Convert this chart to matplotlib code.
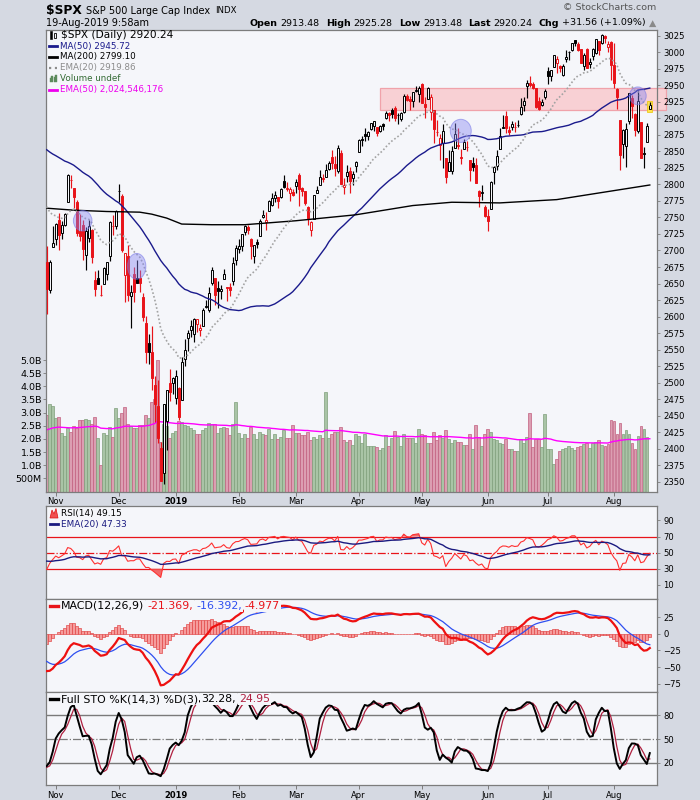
import numpy as np
import pandas as pd
import matplotlib
matplotlib.use("Agg")
import matplotlib.pyplot as plt
from matplotlib.patches import Rectangle, Ellipse, Polygon
from matplotlib.lines import Line2D

# ------------------------------------------------------------------ data
holidays = ["2018-11-22", "2018-12-05", "2018-12-25", "2019-01-01", "2019-01-21",
            "2019-02-18", "2019-04-19", "2019-05-27", "2019-07-04"]
dates = pd.bdate_range("2018-10-29", "2019-08-19")
dates = dates[~dates.isin(pd.to_datetime(holidays))]

# closes before the visible window (2018-08-17 .. 2018-10-26), for the indicators
pre_close = [2850.1, 2857.1, 2863.0, 2861.8, 2857.0, 2874.7, 2896.7, 2897.5, 2914.0, 2901.1, 2901.5,
             2896.7, 2888.6, 2878.1, 2871.7, 2877.1, 2887.9, 2888.9, 2904.2, 2905.0, 2888.8,
             2904.3, 2908.0, 2930.8, 2929.7, 2919.4, 2915.6, 2906.0, 2914.0, 2914.0,
             2924.6, 2923.4, 2925.5, 2901.6, 2885.6, 2884.4, 2880.3, 2785.7, 2728.4, 2767.1,
             2750.8, 2809.9, 2809.2, 2768.8, 2767.8, 2755.9, 2740.7, 2656.1, 2705.6, 2658.7]
pre_high = [2937.1, 2931.4, 2939.9, 2919.8, 2909.6, 2894.0, 2894.8, 2874.0, 2795.1, 2775.8,
            2776.0, 2813.5, 2816.9, 2806.0, 2797.8, 2778.9, 2753.6, 2742.6, 2722.7, 2692.4]
pre_low = [2917.9, 2919.4, 2921.4, 2883.9, 2869.3, 2862.1, 2874.3, 2784.9, 2710.5, 2729.4,
           2749.0, 2766.9, 2781.8, 2755.2, 2760.3, 2749.2, 2691.4, 2651.9, 2667.8, 2628.2]

open_ = [2682.7, 2640.7, 2705.6, 2717.6, 2745.5, 2726.4, 2738.4, 2774.1, 2806.4, 2794.1,
         2773.9, 2730.1, 2737.9, 2693.5, 2718.5, 2730.7, 2654.6, 2657.7, 2633.4, 2650.0,
         2663.8, 2691.5, 2737.0, 2737.8, 2790.5, 2782.4, 2663.5, 2691.3, 2630.9, 2664.4,
         2658.2, 2658.7, 2629.7, 2590.8, 2559.9, 2547.1, 2496.8, 2465.4, 2400.6, 2363.1,
         2442.5, 2498.8, 2498.9, 2477.0, 2491.9, 2474.3, 2535.6, 2568.1, 2580.0, 2573.5,
         2588.1, 2580.3, 2585.1, 2614.8, 2609.3, 2651.3, 2657.9, 2643.5, 2638.8, 2657.4,
         2645.0, 2644.9, 2653.6, 2685.5, 2702.3, 2706.5, 2728.3, 2735.1, 2717.5, 2692.4,
         2712.4, 2722.6, 2750.3, 2743.5, 2760.2, 2769.3, 2779.1, 2780.7, 2780.7, 2804.4,
         2792.4, 2787.5, 2788.1, 2798.2, 2814.4, 2794.4, 2790.3, 2766.5, 2730.8, 2747.6,
         2787.3, 2799.8, 2810.4, 2810.8, 2822.6, 2840.8, 2831.3, 2819.7, 2847.4, 2796.0,
         2812.7, 2819.7, 2809.4, 2828.3, 2848.6, 2868.2, 2876.1, 2874.0, 2884.2, 2888.5,
         2886.6, 2880.4, 2891.9, 2900.9, 2908.3, 2912.3, 2916.0, 2904.8, 2898.8, 2910.0,
         2934.0, 2929.0, 2925.8, 2940.6, 2937.1, 2952.3, 2922.2, 2929.2, 2908.9, 2913.0,
         2879.6, 2859.8, 2863.1, 2840.2, 2820.1, 2820.4, 2855.8, 2858.6, 2841.9, 2854.0,
         2856.1, 2836.7, 2832.4, 2830.0, 2790.3, 2786.9, 2766.2, 2751.5, 2762.6, 2818.1,
         2828.5, 2852.9, 2885.8, 2903.3, 2882.7, 2886.2, 2886.8, 2889.8, 2906.7, 2920.6,
         2949.6, 2952.7, 2951.4, 2945.8, 2926.1, 2919.7, 2932.9, 2971.4, 2964.7, 2978.1,
         2984.3, 2979.8, 2965.5, 2989.3, 2999.6, 3003.4, 3017.8, 3012.1, 3005.1, 2978.9,
         3004.3, 2981.9, 2994.7, 2998.8, 3016.3, 3013.3, 3024.5, 3007.7, 3016.2, 2980.3,
         2943.9, 2898.1, 2861.2, 2858.7, 2896.2, 2930.5, 2907.1, 2880.7, 2894.2, 2846.2,
         2864.7, 2913.5]
high = [2706.9, 2685.4, 2736.7, 2741.7, 2756.6, 2744.3, 2756.8, 2815.2, 2814.8, 2794.1,
        2776.0, 2754.6, 2746.8, 2735.4, 2746.8, 2733.2, 2669.4, 2670.7, 2647.6, 2674.4,
        2682.5, 2744.0, 2753.8, 2760.9, 2800.2, 2785.9, 2696.1, 2708.5, 2647.5, 2674.4,
        2685.4, 2670.2, 2635.1, 2601.1, 2574.0, 2585.3, 2509.6, 2504.4, 2410.3, 2467.8,
        2489.1, 2520.3, 2509.2, 2519.5, 2493.1, 2538.1, 2566.2, 2579.8, 2595.3, 2597.8,
        2596.3, 2589.3, 2613.1, 2625.8, 2645.1, 2675.5, 2657.9, 2653.2, 2647.2, 2672.4,
        2645.0, 2650.9, 2690.4, 2709.0, 2716.7, 2725.0, 2739.0, 2738.1, 2719.3, 2708.1,
        2718.1, 2748.2, 2761.9, 2757.9, 2775.7, 2787.3, 2789.9, 2781.6, 2794.2, 2813.5,
        2803.1, 2795.8, 2793.7, 2808.0, 2816.9, 2796.4, 2790.3, 2767.3, 2744.1, 2784.0,
        2798.3, 2821.2, 2815.0, 2830.7, 2835.4, 2852.4, 2843.5, 2860.3, 2852.4, 2809.8,
        2829.9, 2825.6, 2819.7, 2836.0, 2869.4, 2872.9, 2885.3, 2881.3, 2893.2, 2896.0,
        2886.9, 2889.7, 2893.4, 2910.5, 2909.6, 2916.1, 2918.0, 2908.4, 2909.5, 2936.3,
        2936.8, 2933.1, 2939.9, 2949.5, 2948.2, 2954.1, 2931.7, 2947.9, 2937.3, 2913.0,
        2898.0, 2876.0, 2891.3, 2840.2, 2852.5, 2858.7, 2892.2, 2885.5, 2853.9, 2868.9,
        2865.5, 2836.7, 2841.4, 2840.5, 2792.0, 2799.0, 2769.0, 2763.1, 2804.5, 2827.3,
        2852.1, 2885.0, 2904.8, 2910.6, 2888.6, 2895.2, 2894.5, 2897.3, 2930.8, 2931.7,
        2958.1, 2964.2, 2954.9, 2946.5, 2932.6, 2929.3, 2944.0, 2977.9, 2973.2, 2995.8,
        2994.0, 2980.8, 2981.9, 3003.0, 3002.3, 3013.9, 3017.8, 3015.0, 3005.3, 2998.3,
        3006.0, 2990.7, 3005.9, 3019.6, 3016.3, 3028.0, 3025.6, 3017.2, 3017.4, 3013.6,
        2945.5, 2898.1, 2884.4, 2892.2, 2938.7, 2935.8, 2907.6, 2943.3, 2894.2, 2856.7,
        2893.6, 2925.3]
low = [2603.5, 2635.3, 2705.6, 2708.9, 2700.4, 2717.9, 2737.1, 2774.1, 2795.0, 2764.2,
       2722.0, 2715.0, 2685.8, 2670.8, 2712.2, 2681.1, 2631.5, 2649.8, 2631.1, 2650.0,
       2655.9, 2684.4, 2722.9, 2732.8, 2773.4, 2697.2, 2621.5, 2623.1, 2583.2, 2621.3,
       2650.3, 2637.3, 2593.8, 2530.5, 2528.7, 2489.0, 2441.2, 2408.6, 2351.1, 2346.6,
       2397.9, 2472.9, 2482.8, 2467.5, 2444.0, 2474.3, 2524.6, 2547.6, 2568.9, 2562.0,
       2577.4, 2570.4, 2585.1, 2612.7, 2606.4, 2647.6, 2617.3, 2612.9, 2627.0, 2657.3,
       2624.1, 2631.1, 2648.3, 2678.7, 2696.9, 2698.8, 2724.0, 2724.2, 2687.3, 2681.8,
       2703.8, 2722.6, 2748.6, 2731.2, 2760.2, 2767.3, 2774.1, 2764.6, 2779.1, 2795.0,
       2789.5, 2775.1, 2782.5, 2787.4, 2767.7, 2783.0, 2768.7, 2739.1, 2722.3, 2747.6,
       2786.7, 2799.8, 2803.5, 2810.8, 2822.0, 2823.3, 2812.4, 2817.4, 2800.6, 2785.0,
       2804.0, 2787.7, 2798.8, 2819.2, 2848.6, 2858.8, 2865.2, 2867.1, 2883.0, 2880.8,
       2873.3, 2879.1, 2882.0, 2898.4, 2896.5, 2900.7, 2895.5, 2891.9, 2896.4, 2908.5,
       2926.1, 2912.8, 2917.6, 2939.4, 2924.1, 2923.4, 2900.5, 2929.2, 2898.2, 2862.6,
       2873.3, 2836.4, 2825.4, 2801.4, 2820.1, 2815.1, 2855.8, 2854.2, 2831.3, 2854.0,
       2851.1, 2805.5, 2820.2, 2801.6, 2766.1, 2776.7, 2750.5, 2728.8, 2762.6, 2800.9,
       2822.5, 2852.9, 2885.5, 2878.5, 2874.7, 2882.0, 2879.6, 2887.3, 2905.4, 2911.4,
       2931.5, 2946.9, 2944.1, 2916.0, 2913.0, 2918.6, 2929.1, 2952.2, 2955.9, 2978.0,
       2968.0, 2970.1, 2963.4, 2984.6, 2988.8, 3001.9, 3008.8, 3001.2, 2984.3, 2973.1,
       2975.9, 2976.7, 2988.6, 2996.8, 2996.2, 3012.6, 3014.5, 3000.9, 2958.1, 2945.2,
       2914.1, 2822.1, 2840.0, 2825.7, 2891.0, 2900.2, 2873.1, 2877.1, 2839.6, 2825.5,
       2864.7, 2913.5]
close = [2641.3, 2682.6, 2711.7, 2740.4, 2723.1, 2738.3, 2755.5, 2813.9, 2806.8, 2781.0,
         2726.2, 2722.2, 2701.6, 2730.2, 2736.3, 2690.7, 2641.9, 2649.9, 2632.6, 2673.5,
         2682.2, 2743.8, 2737.8, 2760.2, 2790.4, 2700.1, 2696.0, 2633.1, 2637.7, 2636.8,
         2651.1, 2650.5, 2600.0, 2545.9, 2546.2, 2507.0, 2467.4, 2416.6, 2351.1, 2467.7,
         2488.8, 2485.7, 2506.9, 2510.0, 2447.9, 2531.9, 2549.7, 2574.4, 2585.0, 2596.6,
         2596.3, 2582.6, 2610.3, 2616.1, 2636.0, 2670.7, 2632.9, 2638.7, 2642.3, 2664.8,
         2643.9, 2640.0, 2681.1, 2704.1, 2706.5, 2724.9, 2737.7, 2731.6, 2706.1, 2707.9,
         2709.8, 2744.7, 2753.0, 2745.7, 2775.6, 2779.8, 2784.7, 2774.9, 2792.7, 2796.1,
         2793.9, 2792.4, 2784.5, 2803.7, 2792.8, 2789.7, 2771.5, 2748.9, 2743.1, 2783.3,
         2791.5, 2810.9, 2808.5, 2822.5, 2832.9, 2832.6, 2824.2, 2854.9, 2800.7, 2798.4,
         2818.5, 2805.4, 2815.4, 2834.4, 2867.2, 2867.2, 2873.4, 2879.4, 2892.7, 2895.8,
         2878.2, 2888.2, 2888.3, 2907.4, 2905.6, 2907.1, 2900.5, 2905.0, 2908.0, 2933.7,
         2927.3, 2926.2, 2939.9, 2943.0, 2945.8, 2923.7, 2917.5, 2945.6, 2932.5, 2884.1,
         2879.4, 2870.7, 2881.4, 2811.9, 2834.4, 2851.0, 2876.3, 2859.5, 2840.2, 2864.4,
         2856.3, 2822.2, 2826.1, 2802.4, 2783.0, 2788.9, 2752.1, 2744.5, 2803.3, 2826.2,
         2843.5, 2873.3, 2886.7, 2885.7, 2879.8, 2891.6, 2887.0, 2889.7, 2917.8, 2926.5,
         2954.2, 2950.5, 2945.4, 2917.4, 2913.8, 2924.9, 2941.8, 2964.3, 2973.0, 2995.8,
         2990.4, 2976.0, 2979.6, 2993.1, 2999.9, 3013.8, 3014.3, 3004.0, 2984.4, 2995.1,
         2976.6, 2985.0, 3005.5, 3019.6, 3003.7, 3025.9, 3021.0, 3013.2, 2980.4, 2953.6,
         2932.1, 2844.7, 2881.8, 2884.0, 2938.1, 2918.7, 2882.7, 2926.3, 2840.6, 2847.6,
         2888.7, 2920.2]
volume_b = [2.92, 3.33, 3.26, 2.80, 2.84, 2.23, 2.12, 2.40, 2.28, 2.50,
            2.40, 2.70, 2.72, 2.74, 2.71, 2.55, 2.85, 2.05, 1.00, 2.24,
            2.14, 2.46, 2.09, 3.16, 2.78, 3.00, 3.23, 2.55, 2.50, 2.41,
            2.41, 2.53, 2.51, 2.92, 2.78, 3.42, 3.52, 5.00, 1.90, 2.57,
            2.48, 2.03, 2.23, 2.30, 2.68, 2.65, 2.52, 2.50, 2.42, 2.33,
            2.20, 2.20, 2.33, 2.42, 2.60, 2.58, 2.57, 2.24, 2.42, 2.46,
            2.43, 2.15, 2.55, 3.42, 2.23, 2.05, 2.20, 2.04, 2.45, 2.19,
            2.00, 2.28, 2.17, 2.15, 2.36, 2.00, 2.19, 2.00, 2.08, 2.32,
            2.04, 2.04, 2.53, 2.24, 2.23, 2.13, 2.13, 2.28, 1.96, 2.09,
            2.00, 2.15, 2.04, 3.80, 2.04, 2.19, 2.28, 2.28, 2.46, 1.94,
            1.90, 1.94, 1.77, 2.19, 2.12, 1.86, 2.19, 1.74, 1.74, 1.74,
            1.70, 1.58, 1.64, 2.15, 1.74, 2.05, 2.31, 2.08, 1.74, 2.19,
            2.05, 2.05, 2.05, 1.85, 2.38, 2.20, 2.15, 1.85, 1.85, 2.28,
            1.94, 2.13, 2.03, 2.32, 1.98, 1.85, 1.94, 1.90, 1.90, 1.77,
            1.77, 2.19, 1.60, 2.51, 2.08, 1.74, 2.20, 2.36, 2.28, 2.00,
            1.96, 1.85, 1.81, 2.00, 1.60, 1.62, 1.55, 1.55, 2.00, 1.85,
            2.08, 3.00, 1.70, 2.00, 2.00, 1.70, 2.95, 1.62, 1.62, 1.05,
            1.24, 1.55, 1.60, 1.66, 1.74, 1.66, 1.58, 1.70, 1.74, 1.81,
            1.85, 1.66, 1.85, 1.90, 1.96, 1.77, 1.74, 1.81, 2.72, 2.69,
            2.19, 2.61, 2.19, 2.34, 2.19, 1.85, 1.60, 2.12, 2.50, 2.38,
            2.08, np.nan]
vol_ema_start = 2.32   # EMA(50) of volume just before the window

# 200-day MA
ma200_dates = ["2018-10-29", "2018-11-09", "2018-11-27", "2018-12-13", "2018-12-19", "2018-12-27",
               "2019-01-04", "2019-01-18", "2019-02-05", "2019-03-01", "2019-03-29", "2019-04-26",
               "2019-05-15", "2019-06-07", "2019-07-05", "2019-07-25", "2019-08-19"]
ma200_vals = [2764, 2761, 2759, 2758, 2755, 2749, 2740, 2739, 2739, 2745, 2754, 2768,
              2773, 2772, 2777, 2787, 2799.1]

# annotations (date, price, width in bars, height in points)
circles = [("2018-11-14", 2745, 6.2, 31), ("2018-12-12", 2676, 6.1, 39),
           ("2019-05-20", 2881, 7.0, 35), ("2019-08-13", 2934, 5.6, 27)]
zone_start = "2019-04-10"
zone_low, zone_high = 2912, 2946

# ------------------------------------------------------------------ indicators
n = len(close)
idx = np.arange(n)
fc = pd.Series(pre_close + close)
fh = pd.Series([np.nan] * (len(pre_close) - len(pre_high)) + pre_high + high)
fl = pd.Series([np.nan] * (len(pre_close) - len(pre_low)) + pre_low + low)

ma50 = fc.rolling(50).mean().values[-n:]
ema20 = fc.ewm(span=20, adjust=False).mean().values[-n:]
d = fc.diff()
ag = d.clip(lower=0).ewm(alpha=1 / 14, adjust=False).mean()
al = (-d).clip(lower=0).ewm(alpha=1 / 14, adjust=False).mean()
rsi_s = 100 - 100 / (1 + ag / al)
rsi = rsi_s.values[-n:]
rsi_ema = rsi_s.ewm(span=20, adjust=False).mean().values[-n:]
macd_s = fc.ewm(span=12, adjust=False).mean() - fc.ewm(span=26, adjust=False).mean()
sig_s = macd_s.ewm(span=9, adjust=False).mean()
macd = macd_s.values[-n:]
sig = sig_s.values[-n:]
hist = macd - sig
hh = fh.rolling(14).max()
ll = fl.rolling(14).min()
fastk = 100 * (fc - ll) / (hh - ll)
fullk_s = fastk.rolling(3).mean()
fullk = fullk_s.values[-n:]
fulld = fullk_s.rolling(3).mean().values[-n:]

vol = np.array(volume_b, dtype=float)
vema = []
e = vol_ema_start
for v in vol:
    if not np.isnan(v):
        e = e + (v - e) * 2 / 51
    vema.append(e)

o = np.array(open_); h = np.array(high); lo = np.array(low); c = np.array(close)
prev = np.r_[pre_close[-1], c[:-1]]
up = c >= prev

date_pos = {dt.strftime("%Y-%m-%d"): i for i, dt in enumerate(dates)}

# ------------------------------------------------------------------ figure
W, H = 700, 800
BG = "#d5d9e2"
PBG = "#f5f6fa"
SPC = "#7c7c7c"
RED = "#e8141a"
TICK = 6.1

fig = plt.figure(figsize=(7, 8), dpi=100, facecolor=BG)


def R(x0, y0, x1, y1):
    return [x0 / W, 1 - y1 / H, (x1 - x0) / W, (y1 - y0) / H]


XL = (-0.23, 203.4)
axv = fig.add_axes(R(46, 29.5, 657, 491.5), facecolor=PBG)
ax = fig.add_axes(R(46, 29.5, 657, 491.5))
ax.patch.set_visible(False)
axv.set_zorder(1); ax.set_zorder(2)
ax_r = fig.add_axes(R(46, 506, 657, 599.3), facecolor=PBG)
ax_m = fig.add_axes(R(46, 599.3, 657, 692.3), facecolor=PBG)
ax_s = fig.add_axes(R(46, 692.3, 657, 785), facecolor=PBG)

month_ticks = [i for i in range(1, n) if dates[i].month != dates[i - 1].month]
month_labels = [str(dates[i].year) if dates[i].month == 1 else dates[i].strftime("%b") for i in month_ticks]

for a in (axv, ax, ax_r, ax_m, ax_s):
    a.set_xlim(*XL)
    for s in a.spines.values():
        s.set_color(SPC); s.set_linewidth(0.9)
    a.set_xticks(month_ticks)
    a.tick_params(axis="x", direction="out", length=3, width=0.7, color=SPC, labelsize=6.0, pad=1)
for s in axv.spines.values():
    s.set_visible(False)

# --- volume
vcol = np.where(up, "#a9c4a6", "#dc9eb2")
vedge = np.where(up, "#7f9f7b", "#c2607f")
ok = ~np.isnan(vol)
axv.bar(idx[ok], vol[ok], width=0.86, color=vcol[ok], edgecolor=vedge[ok], linewidth=0.5, zorder=2)
axv.plot(idx, vema, color="#ff00ff", lw=1.0, zorder=3)
axv.set_ylim(0, 462 / 26.3)
vt = [0.5, 1.0, 1.5, 2.0, 2.5, 3.0, 3.5, 4.0, 4.5, 5.0]
axv.set_yticks(vt)
axv.set_yticklabels(["500M"] + [f"{v:.1f}B" for v in vt[1:]])
axv.tick_params(axis="y", direction="out", length=2, width=0.6, color=SPC, labelsize=6.8, pad=1)
axv.tick_params(axis="x", length=0, labelbottom=False)

# --- price
ax.set_ylim(2335.3, 3034.4)
ax.yaxis.tick_right()
ax.set_yticks(np.arange(2350, 3026, 25))
ax.tick_params(axis="y", direction="out", length=2.5, width=0.6, color=SPC, labelsize=TICK, pad=2)
ax.set_xticklabels(month_labels)

zi = date_pos[zone_start]
ax.add_patch(Rectangle((zi, zone_low), XL[1] + 3 - zi, zone_high - zone_low, facecolor="#f8d0d4",
                       edgecolor="#f0a2aa", linewidth=0.9, zorder=0.5, clip_on=False))
ax.add_patch(Rectangle((n - 1 - 0.8, lo[-1] - 4.2), 1.6, h[-1] - lo[-1] + 5.2, facecolor="#ffe34d",
                       edgecolor="#e8c400", linewidth=0.5, zorder=2))
for dstr, p, wb, hp in circles:
    ax.add_patch(Ellipse((date_pos[dstr], p), wb, hp, facecolor=(0.52, 0.52, 0.95, 0.42),
                         edgecolor=(0.45, 0.45, 0.9, 0.55), linewidth=0.7, zorder=7))

ccol = np.where(up, "black", RED)
ax.vlines(idx, lo, h, colors=ccol, linewidth=0.85, zorder=3)
hollow = c > o
face = np.where(hollow, PBG, ccol)
ax.bar(idx, np.abs(c - o), bottom=np.minimum(o, c), width=0.62, color=face, edgecolor=ccol,
       linewidth=0.7, zorder=4)
ax.plot(idx, ma50, color="#1a1a8c", lw=1.0, zorder=5)
ax.plot([date_pos[x] for x in ma200_dates], ma200_vals, color="black", lw=1.0, zorder=5)
ax.plot(idx, ema20, color="#a3a3a3", lw=1.2, ls=(0, (1, 1.3)), zorder=5)

# --- RSI
ax_r.set_ylim(-8, 108)
ax_r.yaxis.tick_right()
ax_r.set_yticks([10, 30, 50, 70, 90])
ax_r.tick_params(axis="y", direction="out", length=2.5, width=0.6, color=SPC, labelsize=TICK, pad=2)
ax_r.tick_params(axis="x", length=0, labelbottom=False)
ax_r.axhline(70, color=RED, lw=0.9, zorder=2)
ax_r.axhline(30, color=RED, lw=0.9, zorder=2)
ax_r.axhline(50, color=RED, lw=0.9, ls="-.", zorder=2)
ax_r.fill_between(idx, rsi, 30, where=rsi < 30, interpolate=True, color="#f05050", alpha=0.85, lw=0, zorder=3)
ax_r.fill_between(idx, rsi, 70, where=rsi > 70, interpolate=True, color="#f05050", alpha=0.85, lw=0, zorder=3)
ax_r.plot(idx, rsi, color="#ff3030", lw=0.8, zorder=4)
ax_r.plot(idx, rsi_ema, color="#1a1a80", lw=1.0, zorder=4)

# --- MACD
ax_m.set_ylim(-88, 52)
ax_m.yaxis.tick_right()
ax_m.set_yticks([-75, -50, -25, 0, 25])
ax_m.tick_params(axis="y", direction="out", length=2.5, width=0.6, color=SPC, labelsize=TICK, pad=2)
ax_m.tick_params(axis="x", length=0, labelbottom=False)
ax_m.bar(idx, hist, width=0.9, color="#f59c9c", edgecolor="#e04040", linewidth=0.45, zorder=2)
ax_m.plot(idx, sig, color="#2e4ff0", lw=0.9, zorder=3)
ax_m.plot(idx, macd, color="#ee1111", lw=1.6, zorder=4)

# --- STO
ax_s.set_ylim(-8, 109)
ax_s.yaxis.tick_right()
ax_s.set_yticks([20, 50, 80])
ax_s.tick_params(axis="y", direction="out", length=2.5, width=0.6, color=SPC, labelsize=TICK, pad=2)
ax_s.set_xticklabels(month_labels)
ax_s.axhline(80, color="#7a7a7a", lw=1.0, zorder=2)
ax_s.axhline(20, color="#7a7a7a", lw=1.0, zorder=2)
ax_s.axhline(50, color="#7a7a7a", lw=0.9, ls="-.", zorder=2)
ax_s.plot(idx, fulld, color="#b02040", lw=0.9, zorder=3)
ax_s.plot(idx, fullk, color="black", lw=1.4, zorder=4)

for a in (ax, ax_s):
    for t in a.get_xticklabels():
        if t.get_text().isdigit():
            t.set_fontweight("bold")

# ------------------------------------------------------------------ text
renderer = fig.canvas.get_renderer()


def F(x, y):
    return (x / W, 1 - y / H)


def segs(items, x, y, size, ha="left", bbox=False):
    arts, ws = [], []
    for txt, col, wt, gap in items:
        kw = dict(color=col, fontsize=size, fontweight=wt, va="center", ha="left")
        if bbox:
            kw["bbox"] = dict(facecolor=PBG, edgecolor="none", pad=0.6)
        a = fig.text(0, 0, txt, **kw)
        ws.append(a.get_window_extent(renderer=renderer).width + gap)
        arts.append(a)
    total = sum(ws)
    cx = x if ha == "left" else x - total
    for a, wd in zip(arts, ws):
        a.set_position(F(cx, y))
        cx += wd
    return arts


def pline(x0, x1, y, col, lw=2.0, ls="-"):
    fig.add_artist(Line2D([x0 / W, x1 / W], [1 - y / H, 1 - y / H], color=col, lw=lw, ls=ls,
                          transform=fig.transFigure, zorder=10))


def prect(x0, y0, x1, y1, fc, ec, lw=0.6):
    fig.add_artist(Rectangle((x0 / W, 1 - y1 / H), (x1 - x0) / W, (y1 - y0) / H, facecolor=fc,
                             edgecolor=ec, lw=lw, transform=fig.transFigure, zorder=10))


segs([("$SPX", "black", "bold", 4), ("S&P 500 Large Cap Index", "black", "normal", 5)], 46, 10.5, 7.0)
fig.texts[-2].set_fontsize(8.8)
# re-layout header title after size change
_t1, _t2 = fig.texts[-2], fig.texts[-1]
_w1 = _t1.get_window_extent(renderer=renderer).width
_t1.set_position(F(46, 10.2))
_t2.set_position(F(46 + _w1 + 4, 10.5))
_w2 = _t2.get_window_extent(renderer=renderer).width
fig.text(*F(46 + _w1 + 4 + _w2 + 5, 10.5), "INDX", fontsize=6.2, va="center")
fig.text(*F(46, 23), "19-Aug-2019 9:58am", fontsize=7.0, va="center")
fig.text(*F(656, 8), "\u00a9 StockCharts.com", fontsize=6.8, color="#555555", va="center", ha="right")
segs([("Open", "black", "bold", 3), ("2913.48", "black", "normal", 6),
      ("High", "black", "bold", 3), ("2925.28", "black", "normal", 6),
      ("Low", "black", "bold", 3), ("2913.48", "black", "normal", 6),
      ("Last", "black", "bold", 3), ("2920.24", "black", "normal", 6),
      ("Chg", "black", "bold", 3), ("+31.56 (+1.09%)", "black", "normal", 3),
      ("\u25b2", "#8a8a8a", "normal", 0)], 656, 23, 6.8, ha="right")

# main legend
prect(50, 31.5, 52, 38.5, "black", "black", 0.4)
prect(54, 32.5, 56, 37.5, PBG, "black", 0.6)
pline(51, 51, 30.5, "black", 0.6)
fig.text(*F(61, 35), "$SPX (Daily) 2920.24", fontsize=7.6, va="center", color="black")
legend_rows = [("MA(50) 2945.72", "#1a1a8c", "-"), ("MA(200) 2799.10", "black", "-"),
               ("EMA(20) 2919.86", "#8c8c8c", ":"), ("Volume undef", "#356b35", None),
               ("EMA(50) 2,024,546,176", "#ee00ee", "-")]
for k, (txt, col, ls) in enumerate(legend_rows):
    yy = 46 + k * 10.9
    if ls is None:
        for j, hh_ in enumerate([4, 6, 5, 7]):
            prect(49.5 + j * 2, yy + 3.5 - hh_, 50.8 + j * 2, yy + 3.5, "#5c8a5c", "#5c8a5c", 0.3)
    else:
        pline(49, 57, yy, col, 2.0 if ls == "-" else 1.6, ls)
    fig.text(*F(59.5, yy), txt, fontsize=6.3, va="center", color=col)

# RSI legend
fig.add_artist(Polygon([(50 / W, 1 - 518 / H), (52 / W, 1 - 510 / H), (54 / W, 1 - 514 / H),
                        (56 / W, 1 - 508.5 / H), (58 / W, 1 - 518 / H)], closed=True,
                       facecolor="#f05050", edgecolor="#e01010", lw=0.5, transform=fig.transFigure, zorder=10))
fig.text(*F(61, 513.3), "RSI(14) 49.15", fontsize=6.4, va="center", color="black")
pline(50, 58, 524.3, "#1a1a80", 2.0)
fig.text(*F(61, 524.3), "EMA(20) 47.33", fontsize=6.4, va="center", color="#1a1a80")

# MACD legend
pline(50, 58, 606, RED, 2.4)
segs([("MACD(12,26,9)", "black", "normal", 3), ("-21.369,", RED, "normal", 3),
      ("-16.392,", "#2e4ff0", "normal", 3), ("-4.977", RED, "normal", 0)], 61, 606, 7.9, bbox=True)

# STO legend
pline(50, 58, 699.3, "black", 2.4)
segs([("Full STO %K(14,3) %D(3)", "black", "normal", 3), ("32.28,", "black", "normal", 3),
      ("24.95", "#b02040", "normal", 0)], 61, 699.3, 7.9, bbox=True)

fig.savefig("out.png", dpi=100, facecolor=BG)
